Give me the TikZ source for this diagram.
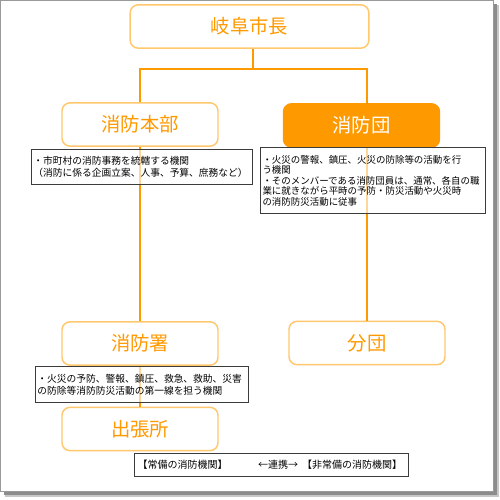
\documentclass[tikz,border=0pt]{standalone}
\usepackage{fontspec}
\setmainfont{Noto Sans CJK JP}
\definecolor{orgorange}{RGB}{255,153,0}
\definecolor{orglight}{RGB}{255,200,110}
\definecolor{descgray}{RGB}{60,60,60}
\begin{document}
\begin{tikzpicture}[x=0.75pt,y=0.75pt,yscale=-1,xscale=1,
  orgbox/.style={draw=orglight, line width=1.1pt, rounded corners=6pt, minimum width=117pt, minimum height=32.5pt, inner sep=0pt, text=orgorange, font=\fontsize{14.5}{17}\selectfont},
  orgfill/.style={orgbox, draw=orgorange, fill=orgorange, text=white},
  descbox/.style={draw=descgray, line width=0.75pt, fill=white, fill opacity=0.6, text opacity=1, anchor=north west, align=left, inner xsep=1.5pt, inner ysep=0pt, font=\fontsize{7.3}{9}\selectfont},
  link/.style={draw=orgorange, line width=1.5pt}]
\path[use as bounding box] (0,0) rectangle (500,500);

%Shape: frame with shadow
\fill[black!22] (5,5) rectangle (499,497);
\fill[black!45] (3.5,3.5) rectangle (497,494.5);
\draw[black!40, fill=white, line width=0.75pt] (0.5,0.5) rectangle (493,491);

% Org boxes
\node[orgbox, minimum width=179pt] (mayor) at (249.5,26.5) {岐阜市長};
\node[orgbox] (honbu) at (140,124.5) {消防本部};
\node[orgfill] (dan) at (361.5,125.5) {消防団};
\node[orgbox] (sho) at (140,343.5) {消防署};
\node[orgbox] (bundan) at (367,343) {分団};
\node[orgbox] (shutcho) at (140,429) {出張所};

% Links
\coordinate (fork) at (253,69);
\draw[link] (mayor.south -| fork) -- (fork);
\draw[link] (honbu.north) |- (fork) -| (dan.north -| bundan.north);
\draw[link] (dan.south -| bundan.north) -- (bundan.north);
\draw[link] (honbu) -- (sho);
\draw[link] (sho) -- (shutcho);

% Notes
\node[descbox, text width=162.75pt, minimum height=26.25pt] (honbunote) at (31,149)
  {・市町村の消防事務を統轄する機関\\（消防に係る企画立案、人事、予算、庶務など）};
\node[descbox, text width=165.75pt, minimum height=49.5pt, font=\fontsize{7.1}{7.9}\selectfont] (dannote) at (260,147)
  {・火災の警報、鎮圧、火災の防除等の活動を行\\う機関\\・そのメンバーである消防団員は、通常、各自の職\\業に就きながら平時の予防・防災活動や火災時\\の消防防災活動に従事};
\node[descbox, text width=156.75pt, minimum height=27pt] (shonote) at (35,366)
  {・火災の予防、警報、鎮圧、救急、救助、災害\\の防除等消防防災活動の第一線を担う機関};

% Legend
\node[descbox, text width=201pt, minimum height=17.25pt, inner xsep=2.25pt, font=\fontsize{7.5}{9}\selectfont] (legend) at (134,453)
  {【常備の消防機関】\hspace*{23pt}←連携→\hspace*{3pt}【非常備の消防機関】};

\end{tikzpicture}
\end{document}
